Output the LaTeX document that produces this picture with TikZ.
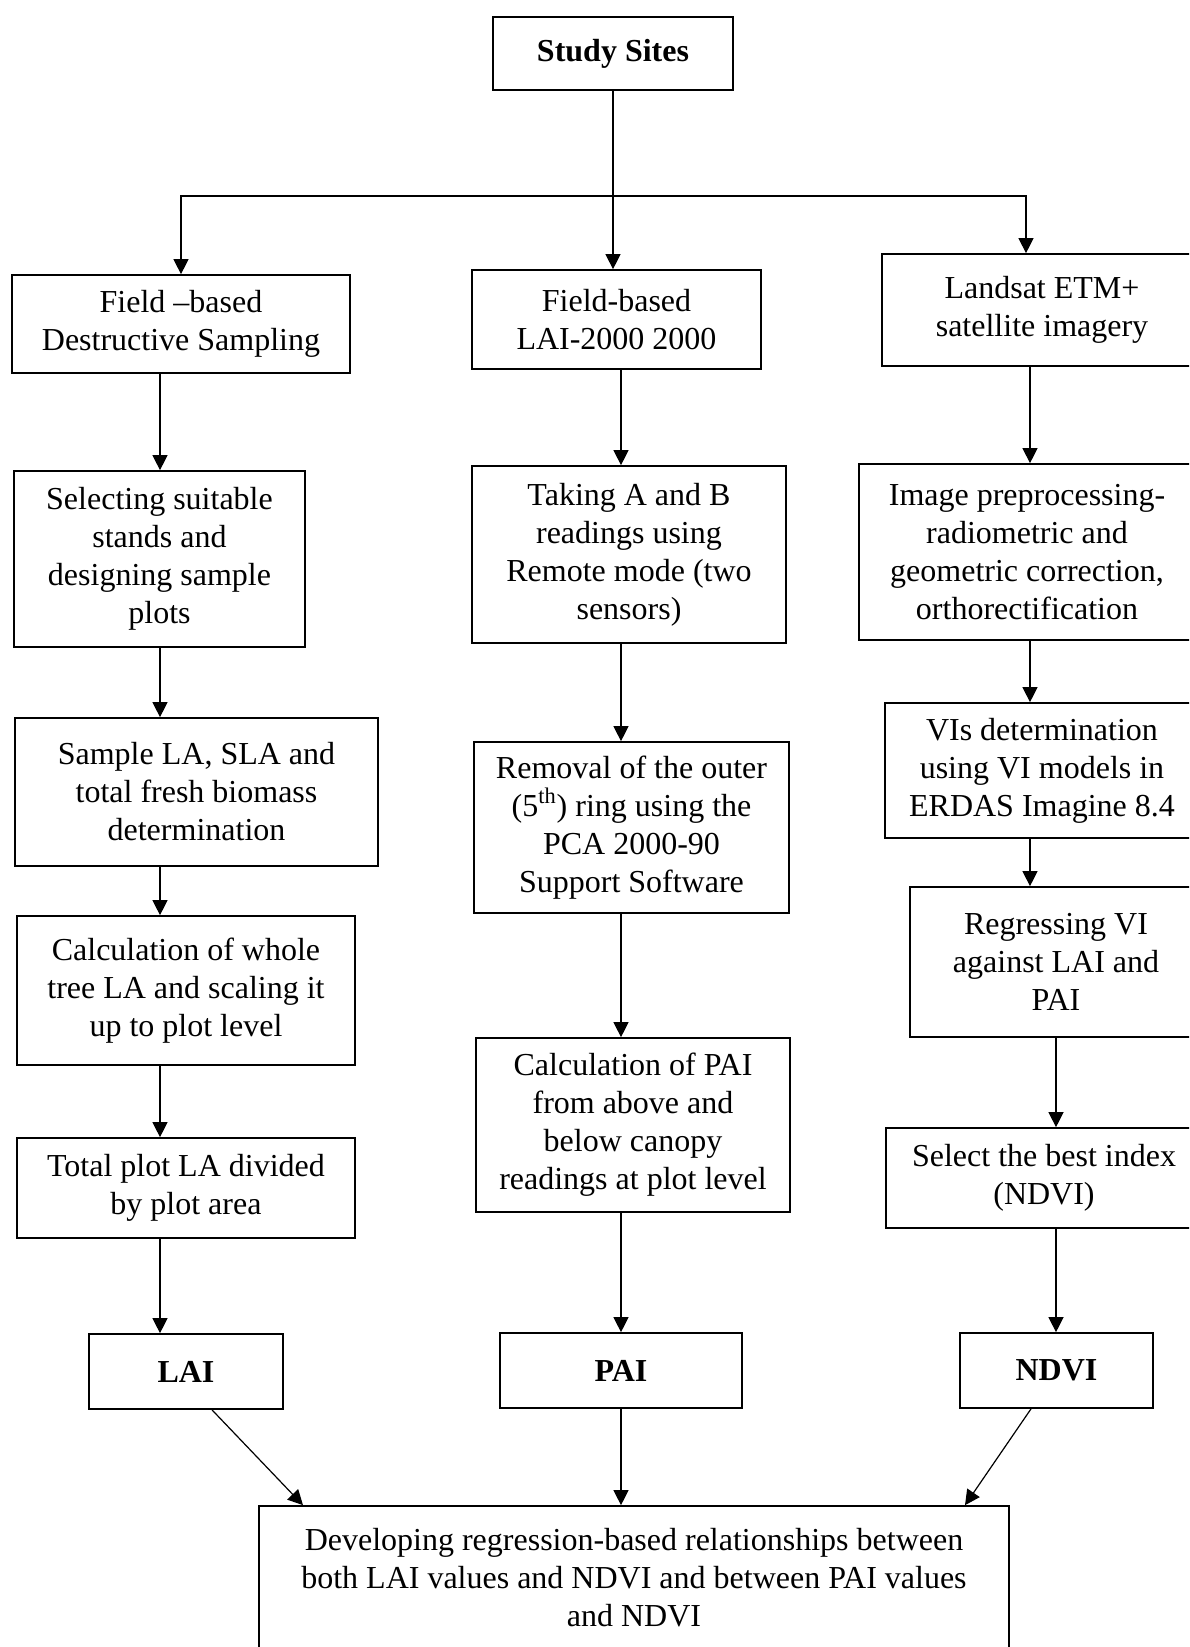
\documentclass[tikz,border=0pt]{standalone}
\usepackage{fontspec}
\setmainfont{Liberation Serif}
\usetikzlibrary{arrows.meta}
\begin{document}
\begin{tikzpicture}[x=0.5pt,y=-0.5pt,
  box/.style={draw, line width=0.85pt, align=center, inner sep=0pt,
    font=\fontsize{16}{19}\selectfont},
  bbox/.style={box, font=\fontsize{16}{19}\selectfont\bfseries},
  conn/.style={line width=0.6pt},
  arr/.style={conn, -{Triangle[length=7.5pt,width=7.5pt]}}]
\useasboundingbox (0,0) rectangle (1189,1647);
\clip (0,0) rectangle (1189,1647);
\fill[white] (0,0) rectangle (1189,1647);

% top
\node[bbox, minimum width=120pt, minimum height=36.5pt] (S) at (613,53.5) {Study Sites};

% left column
\node[box, minimum width=169pt, minimum height=49pt] (A1) at (181,324) {Field --based\\Destructive Sampling};
\node[box, minimum width=145.5pt, minimum height=88pt] (A2) at (159.5,559) {Selecting suitable\\stands and\\designing sample\\plots};
\node[box, minimum width=181.5pt, minimum height=74pt] (A3) at (196.5,792) {Sample LA, SLA and\\total fresh biomass\\determination};
\node[box, minimum width=169pt, minimum height=74.5pt] (A4) at (186,990.5) {Calculation of whole\\tree LA and scaling it\\up to plot level};
\node[box, minimum width=169pt, minimum height=50pt] (A5) at (186,1188) {Total plot LA divided\\by plot area};
\node[bbox, minimum width=97pt, minimum height=37.5pt] (LAI) at (186,1371.5) {LAI};

% middle column
\node[box, minimum width=144.5pt, minimum height=49.5pt] (B1) at (616.5,319.5) {Field-based\\LAI-2000 2000};
\node[box, minimum width=157pt, minimum height=88.5pt] (B2) at (629,554.5) {Taking A and B\\readings using\\Remote mode (two\\sensors)};
\node[box, minimum width=157.5pt, minimum height=85.5pt] (B3) at (631.5,827.5) {Removal of the outer\\(5\textsuperscript{th}) ring using the\\PCA 2000-90\\Support Software};
\node[box, minimum width=157pt, minimum height=87pt] (B4) at (633,1125) {Calculation of PAI\\from above and\\below canopy\\readings at plot level};
\node[bbox, minimum width=121pt, minimum height=37.5pt] (PAI) at (621,1370.5) {PAI};

% right column
\node[box, minimum width=160pt, minimum height=56pt] (C1) at (1042,310) {Landsat ETM+\\satellite imagery};
\node[box, minimum width=168pt, minimum height=88pt] (C2) at (1027,552) {Image preprocessing-\\radiometric and\\geometric correction,\\orthorectification};
\node[box, minimum width=157pt, minimum height=67.5pt] (C3) at (1042,770.5) {VIs determination\\using VI models in\\ERDAS Imagine 8.4};
\node[box, minimum width=146pt, minimum height=75pt] (C4) at (1056,962) {Regressing VI\\against LAI and\\PAI};
\node[box, minimum width=158pt, minimum height=50pt] (C5) at (1044,1178) {Select the best index\\(NDVI)};
\node[bbox, minimum width=96.5pt, minimum height=37.5pt] (NDVI) at (1056.5,1370.5) {NDVI};

% bottom
\node[box, minimum width=375pt, minimum height=72pt] (D) at (634,1578) {Developing regression-based relationships between\\both LAI values and NDVI and between PAI values\\and NDVI};

% helper coordinates
\coordinate (J) at (613,196);
\coordinate (xR) at (1026,0);
\coordinate (xA) at (160,0);
\coordinate (xB) at (621,0);
\coordinate (xC) at (1030,0);
\coordinate (xC2) at (1056,0);
\coordinate (xL1) at (212,0);
\coordinate (xL2) at (303,0);
\coordinate (xN1) at (1031,0);
\coordinate (xN2) at (965,0);

% connectors
\draw[arr] (S.south) -- (S.south |- B1.north);
\draw[arr] (J) -| (A1.north);
\draw[arr] (J) -| (C1.north -| xR);

\draw[arr] (A1.south -| xA) -- (A2.north -| xA);
\draw[arr] (A2.south -| xA) -- (A3.north -| xA);
\draw[arr] (A3.south -| xA) -- (A4.north -| xA);
\draw[arr] (A4.south -| xA) -- (A5.north -| xA);
\draw[arr] (A5.south -| xA) -- (LAI.north -| xA);

\draw[arr] (B1.south -| xB) -- (B2.north -| xB);
\draw[arr] (B2.south -| xB) -- (B3.north -| xB);
\draw[arr] (B3.south -| xB) -- (B4.north -| xB);
\draw[arr] (B4.south -| xB) -- (PAI.north -| xB);
\draw[arr] (PAI.south -| xB) -- (D.north -| xB);

\draw[arr] (C1.south -| xC) -- (C2.north -| xC);
\draw[arr] (C2.south -| xC) -- (C3.north -| xC);
\draw[arr] (C3.south -| xC) -- (C4.north -| xC);
\draw[arr] (C4.south -| xC2) -- (C5.north -| xC2);
\draw[arr] (C5.south -| xC2) -- (NDVI.north -| xC2);

\draw[arr] (LAI.south -| xL1) -- (D.north -| xL2);
\draw[arr] (NDVI.south -| xN1) -- (D.north -| xN2);
\end{tikzpicture}
\end{document}
